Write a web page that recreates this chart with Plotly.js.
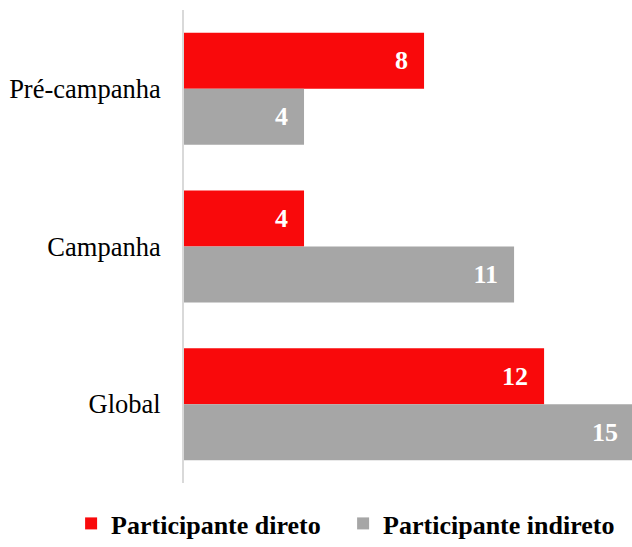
<!DOCTYPE html>
<html>
<head>
<meta charset="utf-8">
<script src="https://cdn.plot.ly/plotly-3.0.1.min.js"></script>
<style>html,body{margin:0;padding:0;background:#fff;}#chart{width:632px;height:547px;}</style>
</head>
<body>
<div id="chart"></div>
<script>
var categories = ["Pré-campanha", "Campanha", "Global"];
var seriesNames = ["Participante direto", "Participante indireto"];
var direto = [8, 4, 12];
var indireto = [4, 11, 15];

var font = "'Liberation Serif', 'Times New Roman', serif";

function mkTrace(vals, name, color) {
  return {
    type: "bar",
    orientation: "h",
    y: categories,
    x: vals,
    name: name,
    marker: {color: color},
    texttemplate: "%{x}\u00a0\u00a0",
    textposition: "inside",
    insidetextanchor: "end",
    constraintext: "none",
    textfont: {family: font, size: 26, color: "#ffffff", weight: "bold"},
    hoverinfo: "none",
    cliponaxis: true
  };
}

var data = [
  mkTrace(direto, seriesNames[0], "#F9090B"),
  mkTrace(indireto, seriesNames[1], "#A6A6A6")
];

var layout = {
  width: 632,
  height: 547,
  margin: {l: 184, r: 0, t: 10, b: 63},
  paper_bgcolor: "#ffffff",
  plot_bgcolor: "#ffffff",
  barmode: "group",
  bargap: 0.29,
  bargroupgap: 0,
  font: {family: font, size: 26, color: "#000000"},
  xaxis: {
    range: [0, 14.93],
    showgrid: false,
    zeroline: false,
    showticklabels: false,
    showline: false,
    ticks: ""
  },
  yaxis: {
    autorange: "reversed",
    showgrid: false,
    zeroline: false,
    showline: true,
    linecolor: "#D9D9D9",
    linewidth: 2,
    ticks: "",
    ticklabelstandoff: 16,
    tickfont: {family: font, size: 26.5, color: "#000000"}
  },
  showlegend: true,
  legend: {
    orientation: "h",
    xref: "paper",
    yref: "paper",
    x: -0.252,
    xanchor: "left",
    y: -0.085,
    yanchor: "middle",
    font: {family: font, size: 26, color: "#000000", weight: "bold"},
    itemwidth: 30,
    entrywidth: 227,
    tracegroupgap: 0
  }
};

Plotly.newPlot("chart", data, layout, {displayModeBar: false, staticPlot: true});
</script>
</body>
</html>
